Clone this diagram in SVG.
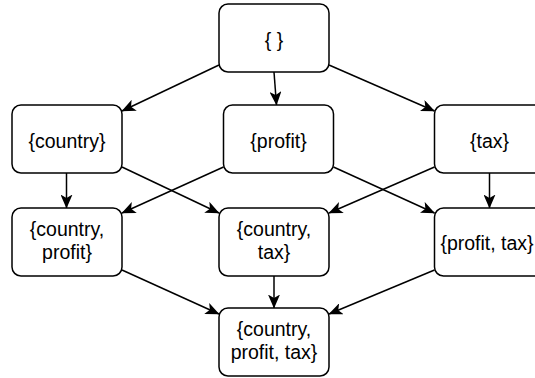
<svg xmlns="http://www.w3.org/2000/svg" width="535" height="378" viewBox="0 0 535 378">
<style>
.n rect{fill:#fff;stroke:#000;stroke-width:1.5}
.n text{font-family:"Liberation Sans",Arial,sans-serif;font-size:19.5px;text-anchor:middle;fill:#000}
.e line{stroke:#000;stroke-width:1.5;marker-end:url(#a)}
</style>
<defs>
<marker id="a" viewBox="0 0 14 12" refX="13.5" refY="6" markerWidth="14" markerHeight="12" markerUnits="userSpaceOnUse" orient="auto">
<path d="M0,0 L14,6 L0,12 L3.5,6 Z" fill="#000"/>
</marker>
</defs>
<g class="e">
<line x1="219" y1="65" x2="122" y2="111"/>
<line x1="274" y1="72" x2="276.5" y2="105"/>
<line x1="329" y1="65" x2="434.5" y2="111"/>
<line x1="66.5" y1="173" x2="66.5" y2="208"/>
<line x1="122" y1="167" x2="219" y2="213"/>
<line x1="223.5" y1="167" x2="122" y2="213"/>
<line x1="333.5" y1="167" x2="434.5" y2="213"/>
<line x1="434.5" y1="167" x2="329" y2="213"/>
<line x1="489.5" y1="173" x2="489.5" y2="208"/>
<line x1="122" y1="270" x2="219" y2="314"/>
<line x1="274" y1="276" x2="274" y2="308"/>
<line x1="434.5" y1="270" x2="329" y2="314"/>
</g>
<g id="n0" class="n"><rect x="219" y="4" width="110" height="68" rx="9"/><text x="274" y="47">{ }</text></g>
<g id="n1" class="n"><rect x="12" y="105" width="110" height="68" rx="9"/><text x="67" y="148">{country}</text></g>
<g id="n2" class="n"><rect x="223.5" y="105" width="110" height="68" rx="9"/><text x="278.5" y="148">{profit}</text></g>
<g id="n3" class="n"><rect x="434.5" y="105" width="110" height="68" rx="9"/><text x="489.5" y="148">{tax}</text></g>
<g id="n4" class="n"><rect x="12" y="208" width="110" height="68" rx="9"/><text x="67" y="236">{country,</text><text x="67" y="259">profit}</text></g>
<g id="n5" class="n"><rect x="219" y="208" width="110" height="68" rx="9"/><text x="274" y="236">{country,</text><text x="274" y="259">tax}</text></g>
<g id="n6" class="n"><rect x="434.5" y="208" width="110" height="68" rx="9"/><text x="487" y="250">{profit, tax}</text></g>
<g id="n7" class="n"><rect x="219" y="308" width="110" height="68" rx="9"/><text x="274" y="336">{country,</text><text x="274" y="359">profit, tax}</text></g>
</svg>
